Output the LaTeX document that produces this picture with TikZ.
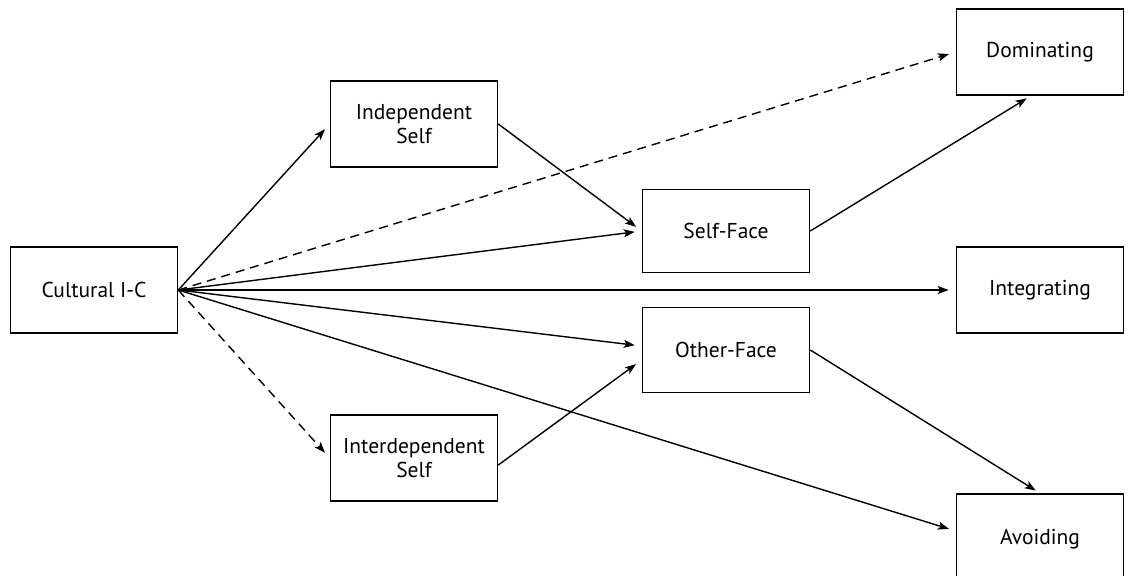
\documentclass[tikz,border=0pt]{standalone}
\usepackage{fontspec}
\setmainfont{PT Sans}
\usepackage{tikz}
\usetikzlibrary{arrows.meta}

\begin{document}
\begin{tikzpicture}[x=1pt, y=-1pt,
    box/.style={draw, line width=1.6pt, minimum width=167pt, minimum height=86pt,
      align=center, font=\fontsize{21.5}{24}\selectfont, inner sep=0pt},
    link/.style={-{Stealth[length=11pt,width=8pt,inset=2.5pt]}, line width=1.4pt, shorten >=7pt},
    dlink/.style={link, dash pattern=on 9pt off 6pt}]
\useasboundingbox (0, 0) rectangle (1128, 576);
\node[box] (cult) at (94, 290) {Cultural I-C};
\node[box] (indep) at (414, 124) {Independent\\Self};
\node[box] (inter) at (414, 458) {Interdependent\\Self};
\node[box, minimum height=83pt] (selfface) at (726, 231) {Self-Face};
\node[box, minimum height=85pt] (otherface) at (726, 350) {Other-Face};
\node[box] (dom) at (1040, 52) {Dominating};
\node[box] (integ) at (1040, 290) {Integrating};
\node[box, minimum height=90pt] (avoid) at (1040, 539) {Avoiding};
% from cultural I-C
\draw[link] (cult.east) -- (indep.west);
\draw[dlink] (cult.east) -- (dom.west);
\draw[link] (cult.east) -- (selfface.west);
\draw[link] (cult.east) -- (integ.west);
\draw[link] (cult.east) -- ([yshift=4pt]otherface.west);
\draw[link] (cult.east) -- ([yshift=8pt]avoid.west);
\draw[dlink] (cult.east) -- (inter.west);
% self construals to face
\draw[link] (indep.east) -- (selfface.west);
\draw[link] ([yshift=-7pt]inter.east) -- ([yshift=-10pt]otherface.west);
% face to styles
\draw[link, shorten >=5pt] (selfface.east) -- ([xshift=-9pt]dom.south);
\draw[link, shorten >=5pt] (otherface.east) -- (avoid.north);
\end{tikzpicture}
\end{document}
